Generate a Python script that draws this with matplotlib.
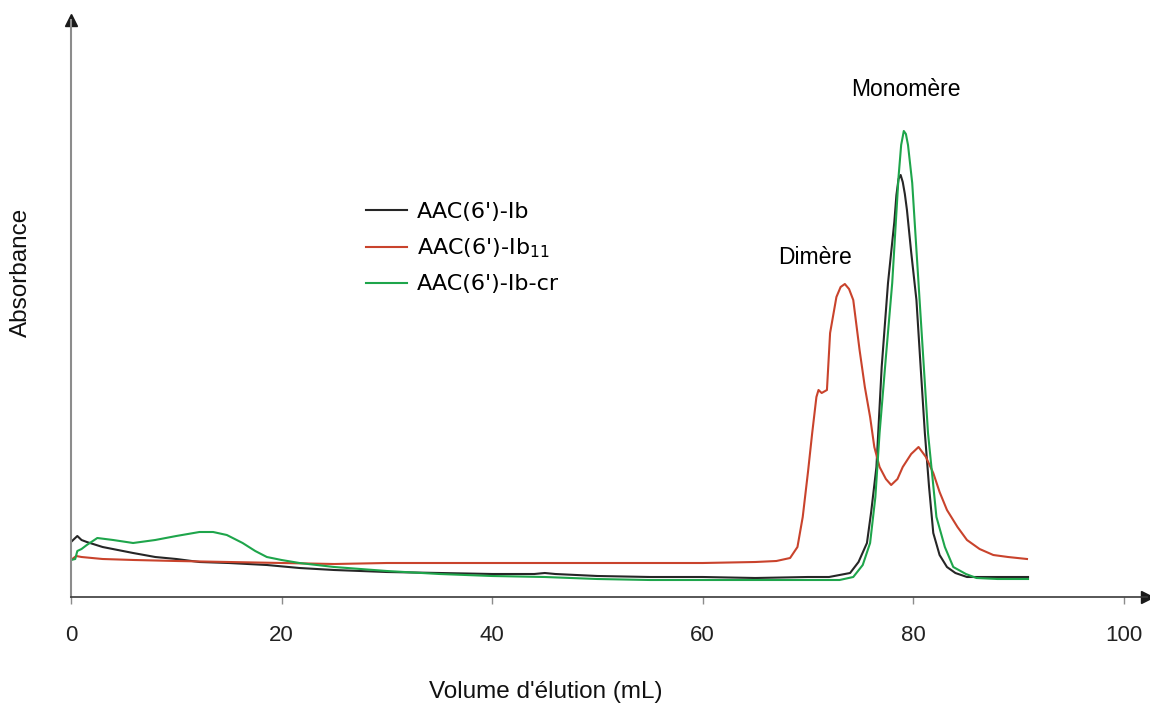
import matplotlib
matplotlib.use("Agg")
import matplotlib.pyplot as plt

# ---- data (absorbance in arbitrary units) ----
x_ib = [0, 0.3, 0.6, 1.0, 1.5, 3, 5.9, 8, 10, 12.2, 15, 18.6, 21.7, 25, 30, 35, 40, 44, 45, 46,
        50, 55, 60, 65, 70, 72, 74.0, 74.8, 75.6, 76.0, 76.5, 77.0, 77.6, 78.2, 78.4, 78.6, 78.8, 79.0,
        79.2, 79.4, 79.8, 80.3, 80.7, 81.1, 81.5, 81.9, 82.5, 83.2, 84.0, 85.1, 88, 90.9]
y_ib = [55, 58, 61, 57, 55, 50, 44, 40, 38, 35, 34, 32, 29, 27, 25, 24, 23, 23, 24, 23,
        21, 20, 20, 19, 20, 20, 24, 35, 54, 85, 130, 230, 314, 375, 402, 418, 422, 415,
        403, 387, 345, 297, 230, 164, 110, 64, 42, 30, 24, 20, 20, 20]

x_ib11 = [0, 0.5, 1, 3, 6, 10, 15, 20, 25, 30, 40, 50, 60, 65, 67, 68.3, 69, 69.5, 70.0, 70.4,
          70.8, 71.0, 71.3, 71.8, 72.1, 72.7, 73.1, 73.5, 73.9, 74.3, 74.9, 75.4, 75.9, 76.3, 76.8, 77.4,
          77.9, 78.5, 79.0, 79.8, 80.5, 81.2, 81.9, 82.5, 83.2, 84.2, 85.1, 86.3, 87.6, 89, 90.8]
y_ib11 = [37, 41, 40, 38, 37, 36, 35, 34, 33, 34, 34, 34, 34, 35, 36, 39, 50, 80, 125, 164,
          200, 207, 204, 207, 264, 300, 310, 313, 308, 297, 247, 210, 180, 150, 130, 118,
          112, 118, 130, 143, 150, 140, 124, 105, 87, 70, 57, 48, 42, 40, 38]

x_cr = [0, 0.4, 0.6, 1.0, 1.5, 2.5, 4, 5.9, 8, 10, 12.2, 13.5, 14.8, 16.3, 17.5, 18.6, 20, 21.7,
        25, 30, 35, 40, 45, 50, 55, 60, 65, 70, 73, 74.3, 75.2, 75.9, 76.4, 76.8, 77.4, 78.0,
        78.6, 78.85, 79.1, 79.3, 79.5, 79.9, 80.6, 81.4, 82.2, 83.0, 83.8, 85, 86, 88, 90.9]
y_cr = [37, 38, 46, 48, 52, 59, 57, 54, 57, 61, 65, 65, 62, 54, 46, 40, 37, 34,
        30, 26, 23, 21, 20, 18, 17, 17, 17, 17, 17, 20, 32, 54, 100, 164, 240, 314,
        420, 452, 466, 463, 452, 414, 297, 164, 80, 50, 30, 23, 19, 18, 18]

labels = ["AAC(6')-Ib", "AAC(6')-Ib$_{11}$", "AAC(6')-Ib-cr"]
colors = ["#262626", "#c9432c", "#1ea54b"]
xticks = [0, 20, 40, 60, 80, 100]

# ---- figure ----
W, H = 1150, 704
fig = plt.figure(figsize=(W / 100, H / 100), dpi=100)
ax = fig.add_axes([71 / W, (H - 597) / H, (1147 - 71) / W, (597 - 20) / H])
ax.set_xlim(0, 102.2)
ax.set_ylim(0, 577)

ax.plot(x_ib, y_ib, color=colors[0], lw=1.5, label=labels[0])
ax.plot(x_ib11, y_ib11, color=colors[1], lw=1.5, label=labels[1])
ax.plot(x_cr, y_cr, color=colors[2], lw=1.5, label=labels[2])

for s in ["top", "right"]:
    ax.spines[s].set_visible(False)
ax.spines["left"].set_color("#8c8c8c")
ax.spines["left"].set_linewidth(1.5)
ax.spines["bottom"].set_color("#3a3a3a")
ax.spines["bottom"].set_linewidth(1.2)

# arrow heads at the ends of the axes
ax.plot([1], [0], marker=">", color="#1a1a1a", markersize=9, transform=ax.transAxes, clip_on=False)
ax.plot([0], [1], marker="^", color="#1a1a1a", markersize=9, transform=ax.transAxes, clip_on=False)

ax.set_yticks([])
ax.set_xticks(xticks)
ax.set_xticklabels([str(t) for t in xticks], fontfamily="Liberation Sans", fontsize=16, color="#222222")
ax.tick_params(axis="x", direction="out", length=5, width=1, color="#8c8c8c", pad=15)

ax.set_xlabel("Volume d'élution (mL)", fontfamily="Liberation Sans", fontsize=17.5, color="#111111",
              va="center", ha="center")
ax.xaxis.set_label_coords((546 - 71) / 1076, (597 - 692) / 577)
ax.set_ylabel("Absorbance", fontfamily="Liberation Sans", fontsize=17.5, color="#111111",
              va="center", ha="center")
ax.yaxis.set_label_coords((21 - 71) / 1076, (597 - 272) / 577)

ax.text(79.3, 507, "Monomère", ha="center", va="center", fontfamily="Liberation Sans", fontsize=16.5)
ax.text(70.7, 340, "Dimère", ha="center", va="center", fontfamily="Liberation Sans", fontsize=16.5)

leg = ax.legend(loc="upper left", bbox_to_anchor=(366 / W, 1 - 202 / H), bbox_transform=fig.transFigure,
                frameon=False, prop={"family": "DejaVu Sans", "size": 16},
                handlelength=1.85, handletextpad=0.45, labelspacing=0.65, borderpad=0, borderaxespad=0)

fig.savefig("out.png", dpi=100)
